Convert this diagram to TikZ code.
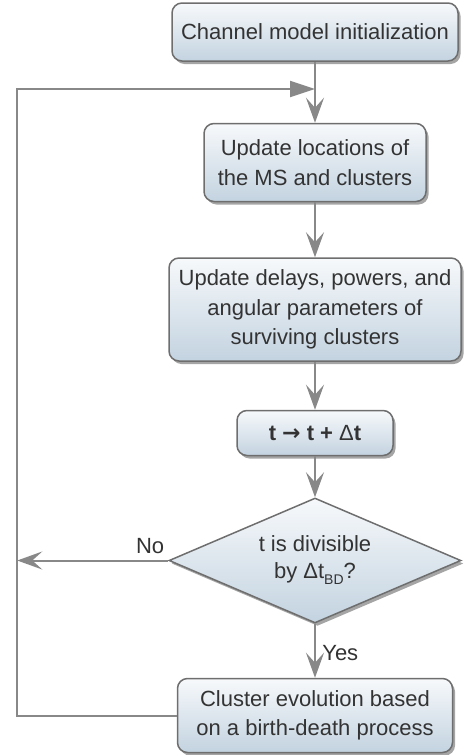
\documentclass[tikz,border=0pt]{standalone}
\usepackage{fontspec}
\setmainfont{Liberation Sans}
\newfontfamily\arrowfont{DejaVu Sans}
\usetikzlibrary{shapes.geometric,arrows.meta,positioning,shadows}
\definecolor{flowline}{HTML}{888888}
\definecolor{flowedge}{HTML}{6E6E6E}
\definecolor{flowtop}{HTML}{F7F9FB}
\definecolor{flowbottom}{HTML}{C3D3E0}
\definecolor{flowtext}{HTML}{333333}
\tikzstyle{stepbox} = [rectangle, draw=flowedge, line width=1.5pt, rounded corners=10pt,
    top color=flowtop, bottom color=flowbottom, align=center, text=flowtext,
    font=\fontsize{22}{29.5}\selectfont,
    drop shadow={shadow xshift=2.5pt, shadow yshift=-3pt, fill=black!70, opacity=0.5}]
\tikzstyle{decision} = [diamond, draw=flowedge, line width=1.5pt, shape aspect=2.34,
    minimum width=292pt, minimum height=125pt, inner sep=0pt,
    top color=flowtop, bottom color=flowbottom, align=center, text=flowtext,
    font=\fontsize{22}{27}\selectfont,
    drop shadow={shadow xshift=2.5pt, shadow yshift=-3pt, fill=black!70, opacity=0.5}]
\tikzstyle{arrow} = [-{Stealth[length=25pt, width=18pt, inset=10pt]}, line width=2pt, flowline]
\tikzstyle{loopline} = [-{Triangle[length=25pt, width=16pt]}, line width=2pt, flowline]
\tikzstyle{flowlabel} = [text=flowtext, font=\fontsize{22}{25}\selectfont]

\begin{document}
\begin{tikzpicture}[x=1pt, y=-1pt]
\useasboundingbox (0,0) rectangle (464,755);
\node[stepbox, minimum width=286pt, minimum height=58pt] (init) at (315,32) {Channel model initialization};
\node[stepbox, below=61pt of init, minimum width=222pt, minimum height=78pt] (locs) {Update locations of\\the MS and clusters};
\node[stepbox, below=55pt of locs, minimum width=292pt, minimum height=103pt] (delays) {Update delays, powers, and\\angular parameters of\\surviving clusters};
\node[stepbox, below=48pt of delays, minimum width=156pt, minimum height=45pt, font=\fontsize{22}{29.5}\selectfont\bfseries] (tstep) {t {\arrowfont →} t + {\mdseries Δ}t};
\node[decision, below=41pt of tstep] (dec) {t is divisible\\by Δt\raisebox{-6pt}{\fontsize{14}{14}\selectfont BD}?};
\node[stepbox, below=54pt of dec, minimum width=275pt, minimum height=74pt] (evol) {Cluster evolution based\\on a birth-death process};

\coordinate (join) at (315,89);
\coordinate[left=151pt of dec.west] (noend);

\draw[arrow] (init) -- (locs);
\draw[arrow] (locs) -- (delays);
\draw[arrow] (delays) -- (tstep);
\draw[arrow] (tstep) -- (dec);
\draw[arrow] (dec) -- node[flowlabel, right=3pt, pos=0.55]{Yes} (evol);
\draw[arrow] (dec.west) -- node[flowlabel, above=2pt, pos=0.12]{No} (noend);
\draw[loopline] (evol.west) -| (noend) |- (join);
\end{tikzpicture}
\end{document}
